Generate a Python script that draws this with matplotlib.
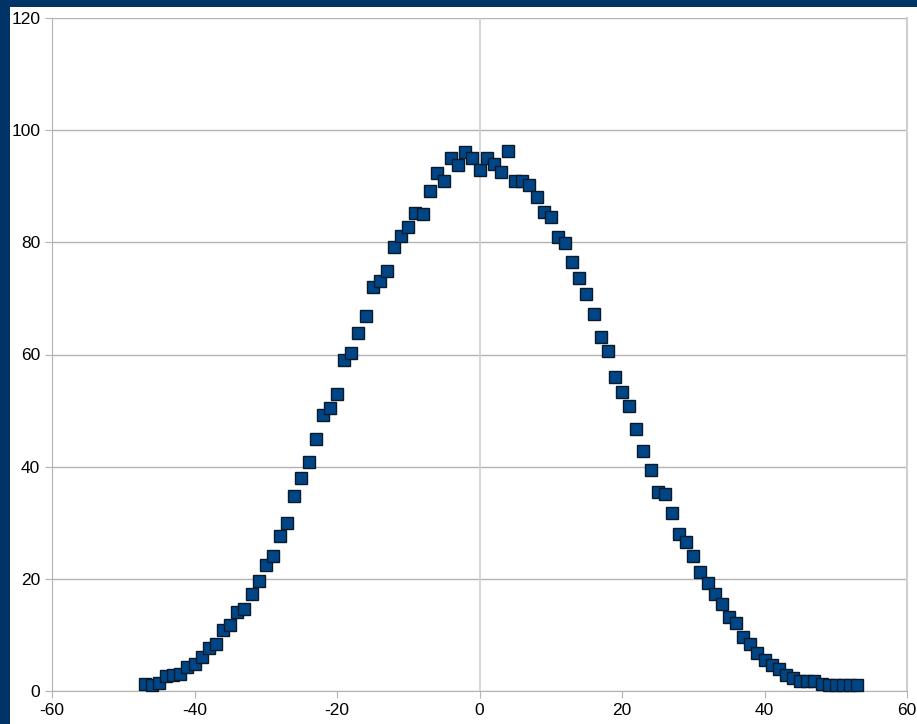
import matplotlib
matplotlib.use("Agg")
import matplotlib.pyplot as plt

plt.rcParams['font.family'] = ['Liberation Sans', 'DejaVu Sans']
plt.rcParams['axes.unicode_minus'] = False

x_values = list(range(-47, 54))
y_values = [
    1.2, 1.1, 1.4, 2.6, 2.9, 3.0, 4.2, 4.9, 6.0, 7.6,
    8.3, 10.8, 11.8, 14.0, 14.6, 17.3, 19.7, 22.4, 24.1, 27.7,
    30.0, 34.7, 38.0, 40.8, 45.0, 49.2, 50.4, 52.9, 59.1, 60.3,
    63.9, 66.8, 72.1, 73.1, 74.8, 79.2, 81.1, 82.8, 85.3, 85.0,
    89.1, 92.3, 90.9, 95.0, 93.8, 96.1, 95.1, 92.9, 95.1, 94.0,
    92.6, 96.3, 91.0, 90.9, 90.3, 88.1, 85.4, 84.5, 80.9, 79.8,
    76.5, 73.6, 70.8, 67.3, 63.2, 60.6, 56.0, 53.4, 50.9, 46.8,
    42.8, 39.4, 35.5, 35.1, 31.7, 28.0, 26.6, 24.1, 21.2, 19.2,
    17.3, 15.5, 13.2, 12.1, 9.7, 8.3, 6.7, 5.5, 4.6, 4.0,
    2.9, 2.3, 1.8, 1.8, 1.8, 1.2, 1.1, 1.0, 1.0, 1.0,
    1.0,
]
x_ticks = [-60, -40, -20, 0, 20, 40, 60]
y_ticks = [0, 20, 40, 60, 80, 100, 120]

fig = plt.figure(figsize=(9.17, 7.24), dpi=100)
fig.patch.set_facecolor('#003366')

# white page area behind the chart
bg = fig.add_axes([10 / 917, 0, 1 - 10 / 917, 1 - 7 / 724], zorder=-1)
bg.set_facecolor('white')
bg.set_xticks([])
bg.set_yticks([])
for s in bg.spines.values():
    s.set_visible(False)

ax = fig.add_axes([52 / 917, 1 - 691 / 724, 855 / 917, 673 / 724])
ax.patch.set_alpha(0)
ax.set_xlim(-60, 60)
ax.set_ylim(0, 120)
ax.set_xticks(x_ticks)
ax.set_yticks(y_ticks)
ax.yaxis.grid(True, color='#b3b3b3', linewidth=1)
ax.axvline(0, color='#d0d0d0', linewidth=1.2, zorder=1)
ax.set_axisbelow(True)

for side in ['left', 'bottom']:
    ax.spines[side].set_color('#b3b3b3')
ax.spines['right'].set_color('#cfcfcf')
ax.spines['right'].set_linewidth(1.5)
ax.spines['top'].set_visible(False)
ax.tick_params(axis='both', colors='#b3b3b3', labelcolor='black', labelsize=12.5, length=5)

ax.plot(x_values, y_values, linestyle='none', marker='s', markersize=9,
        markerfacecolor='#004586', markeredgecolor='#0a1a2a', markeredgewidth=1, zorder=3,
        clip_on=False)

fig.savefig('out.png', dpi=100, facecolor=fig.get_facecolor())
